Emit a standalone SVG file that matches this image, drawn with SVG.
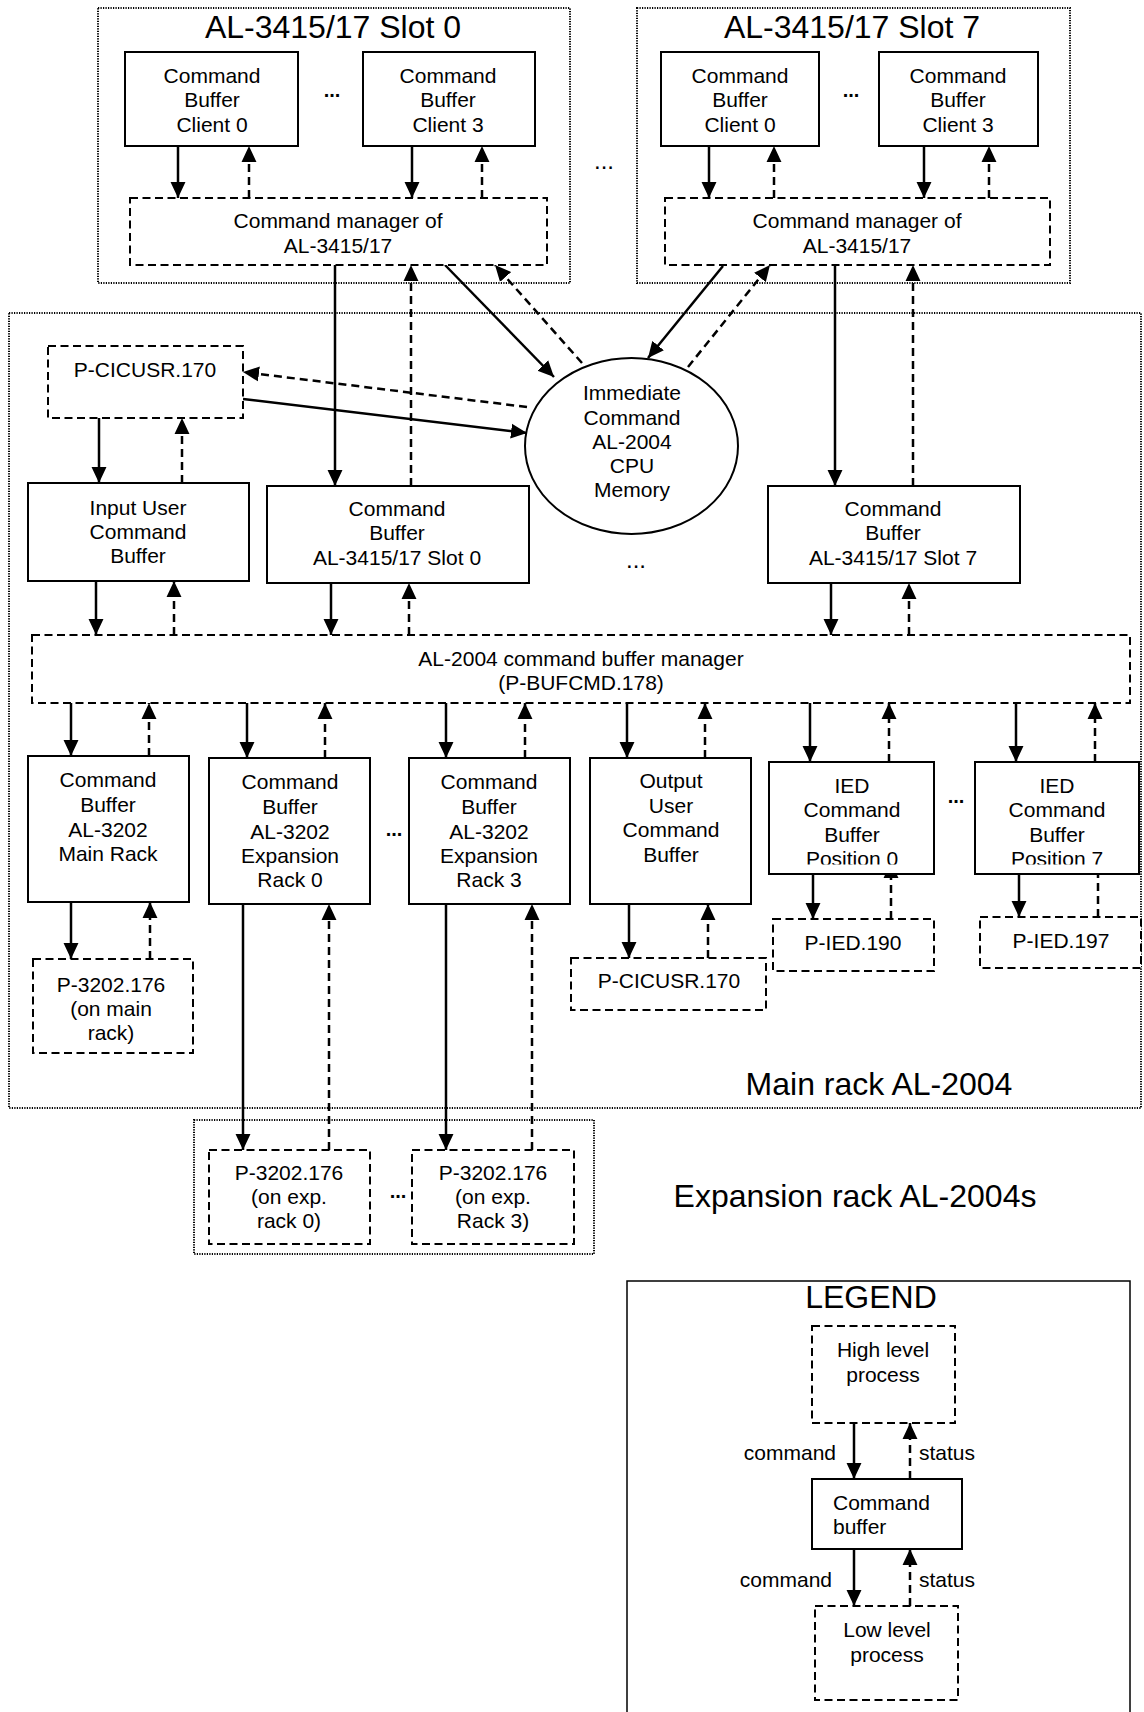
<svg xmlns="http://www.w3.org/2000/svg" width="1144" height="1712" viewBox="0 0 1144 1712">
<style>
text{font-family:"Liberation Sans",Arial,Helvetica,sans-serif;font-size:21px;text-anchor:middle;fill:#000}
.big{font-size:32px}
.dots{font-weight:bold;font-size:20px}
.ldots{font-size:24px}
.box{fill:#fff;stroke:#000;stroke-width:2}
.dbox{fill:#fff;stroke:#000;stroke-width:2;stroke-dasharray:8 4.5}
.cont{fill:none;stroke:#000;stroke-width:2;stroke-dasharray:1.2 1.3}
.cmd{fill:none;stroke:#000;stroke-width:2.5;marker-end:url(#ah)}
.st{fill:none;stroke:#000;stroke-width:2.5;stroke-dasharray:8 5;marker-end:url(#ah)}
.stn{fill:none;stroke:#000;stroke-width:2.5;stroke-dasharray:8 5}
</style>
<defs>
<marker id="ah" markerUnits="userSpaceOnUse" markerWidth="16" markerHeight="16" viewBox="0 0 15 14" refX="15" refY="7" orient="auto">
<path d="M0,0 L15,7 L0,14 z" fill="#000"/>
</marker>
<clipPath id="clipIed0"><rect x="769" y="762" width="165" height="102.5"/></clipPath>
<clipPath id="clipIed7"><rect x="975" y="762" width="164" height="102.5"/></clipPath>
</defs>
<rect x="0" y="0" width="1144" height="1712" fill="#fff"/>

<g id="containers">
<rect id="slot0-frame" class="cont" x="98" y="8" width="472" height="275"/>
<rect id="slot7-frame" class="cont" x="637" y="8" width="433" height="275"/>
<rect id="main-rack" class="cont" x="9" y="313" width="1132" height="795"/>
<rect id="exp-rack" class="cont" x="194" y="1120" width="400" height="134"/>
<rect id="legend-frame" fill="none" stroke="#000" stroke-width="1.5" x="627" y="1281" width="503" height="450"/>
<text class="big" x="333" y="38">AL-3415/17 Slot 0</text>
<text class="big" x="852" y="38">AL-3415/17 Slot 7</text>
<text class="big" x="879" y="1095">Main rack AL-2004</text>
<text class="big" x="855" y="1207">Expansion rack AL-2004s</text>
<text class="big" x="871" y="1308">LEGEND</text>
<text class="dots" x="332" y="97">...</text>
<text class="dots" x="851" y="97">...</text>
<text class="ldots" x="604" y="169">...</text>
<text class="ldots" x="636" y="568">...</text>
<text class="dots" x="394" y="836">...</text>
<text class="dots" x="956" y="803">...</text>
<text class="dots" x="398" y="1198">...</text>
</g>

<g id="connectors">
<path class="cmd" d="M178,146 V198"/>
<path class="st" d="M249,198 V146"/>
<path class="cmd" d="M412,146 V198"/>
<path class="st" d="M482,198 V146"/>
<path class="cmd" d="M709,146 V198"/>
<path class="st" d="M774,198 V146"/>
<path class="cmd" d="M924,146 V198"/>
<path class="st" d="M989,198 V146"/>
<path class="cmd" d="M335,265 V486"/>
<path class="st" d="M411,486 V265"/>
<path class="cmd" d="M445,265 L554,377"/>
<path class="st" d="M582,363 L495,265"/>
<path class="cmd" d="M723,266 L648,358"/>
<path class="st" d="M688,367 L770,265"/>
<path class="cmd" d="M835,265 V486"/>
<path class="st" d="M913,486 V265"/>
<path class="st" d="M527,407 L243,372"/>
<path class="cmd" d="M243,399 L527,433"/>
<path class="cmd" d="M99,418 V483"/>
<path class="st" d="M182,483 V418"/>
<path class="cmd" d="M96,581 V635"/>
<path class="st" d="M174,635 V581"/>
<path class="cmd" d="M331,583 V635"/>
<path class="st" d="M409,635 V583"/>
<path class="cmd" d="M831,583 V635"/>
<path class="st" d="M909,635 V583"/>
<path class="cmd" d="M71,703 V756"/>
<path class="st" d="M149,756 V703"/>
<path class="cmd" d="M247,703 V758"/>
<path class="st" d="M325,758 V703"/>
<path class="cmd" d="M446,703 V758"/>
<path class="st" d="M525,758 V703"/>
<path class="cmd" d="M627,703 V758"/>
<path class="st" d="M705,758 V703"/>
<path class="cmd" d="M810,703 V762"/>
<path class="st" d="M889,762 V703"/>
<path class="cmd" d="M1016,703 V762"/>
<path class="st" d="M1095,762 V703"/>
<path class="cmd" d="M71,902 V959"/>
<path class="st" d="M150,959 V902"/>
<path class="cmd" d="M243,904 V1150"/>
<path class="st" d="M329,1150 V904"/>
<path class="cmd" d="M446,904 V1150"/>
<path class="st" d="M532,1150 V904"/>
<path class="cmd" d="M629,904 V958"/>
<path class="st" d="M708,958 V904"/>
<path class="cmd" d="M813,874 V919"/>
<path class="st" d="M891,919 V862"/>
<path class="cmd" d="M1019,874 V917"/>
<path class="stn" d="M1098,917 V874"/>
<path class="cmd" d="M854,1423 V1479"/>
<path class="st" d="M910,1479 V1423"/>
<path class="cmd" d="M854,1549 V1606"/>
<path class="st" d="M910,1606 V1549"/>
</g>

<g id="slot0-client0"><rect class="box" x="125" y="52" width="173" height="94"/><text x="212" y="83">Command</text><text x="212" y="107">Buffer</text><text x="212" y="132">Client 0</text></g>
<g id="slot0-client3"><rect class="box" x="363" y="52" width="172" height="94"/><text x="448" y="83">Command</text><text x="448" y="107">Buffer</text><text x="448" y="132">Client 3</text></g>
<g id="slot0-manager"><rect class="dbox" x="130" y="198" width="417" height="67"/><text x="338" y="228">Command manager of</text><text x="338" y="253">AL-3415/17</text></g>
<g id="slot7-client0"><rect class="box" x="661" y="52" width="158" height="94"/><text x="740" y="83">Command</text><text x="740" y="107">Buffer</text><text x="740" y="132">Client 0</text></g>
<g id="slot7-client3"><rect class="box" x="879" y="52" width="159" height="94"/><text x="958" y="83">Command</text><text x="958" y="107">Buffer</text><text x="958" y="132">Client 3</text></g>
<g id="slot7-manager"><rect class="dbox" x="665" y="198" width="385" height="67"/><text x="857" y="228">Command manager of</text><text x="857" y="253">AL-3415/17</text></g>

<g id="p-cicusr-in"><rect class="dbox" x="48" y="346" width="195" height="72"/><text x="145" y="377">P-CICUSR.170</text></g>
<g id="immediate-memory"><ellipse fill="#fff" stroke="#000" stroke-width="2" cx="631.5" cy="446" rx="106.5" ry="88"/><text x="632" y="400">Immediate</text><text x="632" y="425">Command</text><text x="632" y="449">AL-2004</text><text x="632" y="473">CPU</text><text x="632" y="497">Memory</text></g>
<g id="input-user-buffer"><rect class="box" x="28" y="483" width="221" height="98"/><text x="138" y="515">Input User</text><text x="138" y="539">Command</text><text x="138" y="563">Buffer</text></g>
<g id="slot0-buffer"><rect class="box" x="267" y="486" width="262" height="97"/><text x="397" y="516">Command</text><text x="397" y="540">Buffer</text><text x="397" y="565">AL-3415/17 Slot 0</text></g>
<g id="slot7-buffer"><rect class="box" x="768" y="486" width="252" height="97"/><text x="893" y="516">Command</text><text x="893" y="540">Buffer</text><text x="893" y="565">AL-3415/17 Slot 7</text></g>
<g id="bufcmd-manager"><rect class="dbox" x="32" y="635" width="1098" height="68"/><text x="581" y="666">AL-2004 command buffer manager</text><text x="581" y="690">(P-BUFCMD.178)</text></g>

<g id="main-rack-buffer"><rect class="box" x="28" y="756" width="161" height="146"/><text x="108" y="787">Command</text><text x="108" y="812">Buffer</text><text x="108" y="837">AL-3202</text><text x="108" y="861">Main Rack</text></g>
<g id="exp0-buffer"><rect class="box" x="209" y="758" width="161" height="146"/><text x="290" y="789">Command</text><text x="290" y="814">Buffer</text><text x="290" y="839">AL-3202</text><text x="290" y="863">Expansion</text><text x="290" y="887">Rack 0</text></g>
<g id="exp3-buffer"><rect class="box" x="409" y="758" width="161" height="146"/><text x="489" y="789">Command</text><text x="489" y="814">Buffer</text><text x="489" y="839">AL-3202</text><text x="489" y="863">Expansion</text><text x="489" y="887">Rack 3</text></g>
<g id="output-user-buffer"><rect class="box" x="590" y="758" width="161" height="146"/><text x="671" y="788">Output</text><text x="671" y="813">User</text><text x="671" y="837">Command</text><text x="671" y="862">Buffer</text></g>
<g id="ied0-buffer"><rect class="box" x="769" y="762" width="165" height="112"/><g clip-path="url(#clipIed0)"><text x="852" y="793">IED</text><text x="852" y="817">Command</text><text x="852" y="842">Buffer</text><text x="852" y="866">Position 0</text></g></g>
<g id="ied7-buffer"><rect class="box" x="975" y="762" width="164" height="112"/><g clip-path="url(#clipIed7)"><text x="1057" y="793">IED</text><text x="1057" y="817">Command</text><text x="1057" y="842">Buffer</text><text x="1057" y="866">Position 7</text></g></g>

<g id="p-3202-main"><rect class="dbox" x="33" y="959" width="160" height="94"/><text x="111" y="992">P-3202.176</text><text x="111" y="1016">(on main</text><text x="111" y="1040">rack)</text></g>
<g id="p-cicusr-out"><rect class="dbox" x="571" y="958" width="195" height="52"/><text x="669" y="988">P-CICUSR.170</text></g>
<g id="p-ied-190"><rect class="dbox" x="773" y="919" width="161" height="52"/><text x="853" y="950">P-IED.190</text></g>
<g id="p-ied-197"><rect class="dbox" x="980" y="917" width="161" height="51"/><text x="1061" y="948">P-IED.197</text></g>
<g id="p-3202-exp0"><rect class="dbox" x="209" y="1150" width="161" height="94"/><text x="289" y="1180">P-3202.176</text><text x="289" y="1204">(on exp.</text><text x="289" y="1228">rack 0)</text></g>
<g id="p-3202-exp3"><rect class="dbox" x="412" y="1150" width="162" height="94"/><text x="493" y="1180">P-3202.176</text><text x="493" y="1204">(on exp.</text><text x="493" y="1228">Rack 3)</text></g>

<g id="legend-high"><rect class="dbox" x="812" y="1326" width="143" height="97"/><text x="883" y="1357">High level</text><text x="883" y="1382">process</text></g>
<g id="legend-buffer"><rect class="box" x="812" y="1479" width="150" height="70"/><text x="833" y="1510" style="text-anchor:start">Command</text><text x="833" y="1534" style="text-anchor:start">buffer</text></g>
<g id="legend-low"><rect class="dbox" x="815" y="1606" width="143" height="94"/><text x="887" y="1637">Low level</text><text x="887" y="1662">process</text></g>
<g id="legend-labels"><text x="836" y="1460" style="text-anchor:end">command</text><text x="919" y="1460" style="text-anchor:start">status</text><text x="832" y="1587" style="text-anchor:end">command</text><text x="919" y="1587" style="text-anchor:start">status</text></g>
</svg>
